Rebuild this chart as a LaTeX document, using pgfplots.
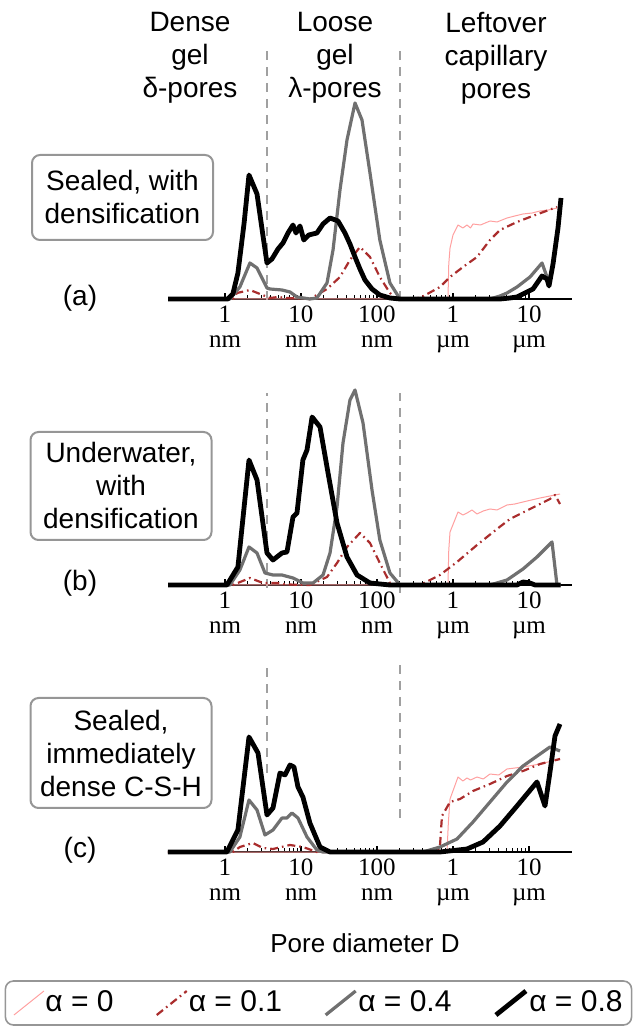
\documentclass[border=0pt]{standalone}
\usepackage{fontspec}
\setmainfont{Liberation Sans}
\newfontfamily\serif{Liberation Serif}
\usepackage{pgfplots}
\pgfplotsset{compat=1.18}

\definecolor{alphaZero}{RGB}{255,160,160}
\definecolor{alphaOne}{RGB}{170,45,45}
\definecolor{alphaFour}{RGB}{112,112,112}
\definecolor{dashgray}{RGB}{160,160,160}
\definecolor{boxgray}{RGB}{150,150,150}

% shared look of the three pore-size panels
\pgfplotsset{
  every axis/.append style={
    scale only axis, width=202pt, height=100pt,
    xmin=0.178, xmax=36800, ymin=0, ymax=200,
    axis x line*=bottom, axis y line=none,
    xtick={1,10,100,1000,10000},
    xticklabels={{1\\nm},{10\\nm},{100\\nm},{1\\µm},{10\\µm}},
    xticklabel style={align=center, font=\serif\fontsize{12.5}{12.5}\selectfont},
    tick align=inside,
    major tick length=3pt, minor tick length=1.8pt,
    tick style={black, line width=0.6pt},
    axis line style={black, line width=1pt},
    clip=false, anchor=south west,
  },
  a0/.style={color=alphaZero, line width=0.5pt, no marks, line join=round},
  a1/.style={color=alphaOne, line width=1.1pt, no marks, line join=round,
    dash pattern=on 4pt off 2pt on 0.8pt off 2pt},
  a4/.style={color=alphaFour, line width=1.6pt, no marks, line join=round},
  a8/.style={color=black, line width=2.4pt, no marks, line join=round},
}
\tikzset{
  poreclass/.style={dashgray, line width=1pt, dash pattern=on 4.5pt off 3.5pt},
  casebox/.style={draw=boxgray, line width=1pt, rounded corners=4pt, align=center,
    minimum width=90.5pt, inner sep=3pt, font=\fontsize{14}{16.5}\selectfont},
  txt/.style={align=center, font=\fontsize{14}{16.5}\selectfont},
}

\begin{document}
\begin{tikzpicture}
\useasboundingbox (0,0) rectangle (316pt,516pt);

% (a) sealed, with densification
\begin{semilogxaxis}[at={(84pt,366.5pt)}]
  \draw[poreclass] (axis cs:3.57,-1) -- (axis cs:3.57,251);
  \draw[poreclass] (axis cs:201,-1) -- (axis cs:201,251);
  \addplot[a0] coordinates {(0.178,0) (859,0) (880,35) (914,51) (1000,64) (1164,74) (1350,71)
    (1528,74) (1700,71) (1833,75) (2300,74) (3069,78) (3800,77) (5138,81) (6500,83)
    (8340,85) (11000,86) (13960,88) (18000,89) (23350,91)};
  \addplot[a1] coordinates {(0.178,0) (1.27,0) (1.44,6) (2.13,9) (2.89,5) (3.91,1) (5.0,2)
    (6.5,1) (13.1,0) (22.0,10) (32.6,22) (44.1,39) (59.7,52) (80.9,42) (109,22) (148,6)
    (183,0) (368,1) (674,12) (914,22) (1355,32) (2070,42) (3069,59) (4151,69) (6950,77)
    (10310,82) (23350,92)};
  \addplot[a4] coordinates {(0.178,0) (1.16,0) (1.57,12) (2.13,36) (2.64,31) (3.57,11)
    (3.91,10) (5.62,9) (7.17,7) (8.86,2) (13.1,0) (16.2,1) (22.0,16) (26.4,49) (32.6,109)
    (40.3,159) (51.4,196) (63.5,179) (80.9,126) (109,59) (148,16) (201,0) (3069,0)
    (4151,3) (5138,6) (6950,12) (10310,22) (14830,36) (17270,22) (18330,18)};
  \addplot[a8] coordinates {(0.178,0) (1.09,0) (1.27,5) (1.48,26) (1.78,75) (2.07,124)
    (2.64,105) (3.07,70) (3.57,36) (4.15,40) (4.98,50) (5.80,56) (6.74,66) (7.85,74)
    (8.60,66) (9.70,73) (10.9,59) (12.7,64) (16.2,66) (19.5,75) (24.1,81) (30.7,78)
    (37.9,66) (44.1,55) (51.4,42) (59.7,30) (69.5,19) (86,10) (109,4) (148,1) (201,0)
    (4151,0) (5623,1) (6950,2) (8340,5) (11290,10) (14830,23) (17270,20) (18330,13)
    (20700,35) (24080,71) (26370,101)};
\end{semilogxaxis}

% (b) underwater, with densification
\begin{semilogxaxis}[at={(84pt,223.5pt)}]
  \draw[poreclass] (axis cs:3.57,-3) -- (axis cs:3.57,192);
  \draw[poreclass] (axis cs:201,-8) -- (axis cs:201,192);
  \addplot[a0] coordinates {(0.178,0) (859,0) (880,35) (914,53) (1164,73) (1350,70)
    (1528,72) (1778,75) (2070,71) (2500,74) (3069,76) (3800,75) (5138,80) (6500,81)
    (8340,83) (13960,87) (25590,91)};
  \addplot[a1] coordinates {(0.178,0) (1.27,0) (2.13,7) (3.16,2) (4.83,2) (6.5,0.5) (13.1,0)
    (22.0,8) (29.8,22) (40.3,38) (59.7,52) (80.9,42) (109,22) (148,2) (201,0) (368,0)
    (498,5) (674,10) (1130,23) (2070,40) (3793,56) (5623,66) (10310,76) (18890,86)
    (21980,90) (25590,81)};
  \addplot[a4] coordinates {(0.178,0) (1.16,0) (1.57,15) (2.07,38) (2.64,32) (3.36,12)
    (4.28,10) (5.62,10) (7.85,7) (10.6,2) (14.4,2) (19.5,10) (24.1,32) (29.8,78)
    (35.7,142) (44.1,185) (51.4,195) (65.5,162) (86.0,95) (109,45) (148,12) (201,0)
    (3069,0) (5138,5) (8340,16) (12740,28) (20080,43) (23350,0) (26000,0)};
  \addplot[a8] coordinates {(0.178,0) (1.06,0) (1.48,18) (2.07,125) (2.64,105) (3.57,32)
    (4.28,25) (5.62,32) (6.54,33) (7.85,68) (8.86,72) (10.6,125) (12.0,135) (14.0,168)
    (17.8,158) (22.7,112) (29.8,62) (40.3,28) (54.6,10) (80.9,2) (148,0) (6950,0)
    (8340,3) (10310,2) (12000,0) (26000,0)};
\end{semilogxaxis}

% (c) sealed, immediately dense C-S-H
\begin{semilogxaxis}[at={(84pt,90pt)},
    legend columns=4,
    legend style={at={(0.3725,-0.755)}, anchor=center, draw=boxgray, line width=0.8pt,
      rounded corners=4pt, font=\fontsize{15}{15}\selectfont,
      inner xsep=4pt, inner ysep=3pt, nodes={inner xsep=0.5pt},
      /tikz/every even column/.append style={column sep=20.5pt}},
    legend image code/.code={\draw[#1] (0pt,-6pt) -- (15pt,6pt);},
  ]
  \draw[poreclass] (axis cs:3.57,79) -- (axis cs:3.57,189);
  \draw[poreclass] (axis cs:201,34) -- (axis cs:201,192);
  \addplot[a0] coordinates {(0.178,0) (834,0) (870,30) (914,53) (1164,75) (1350,71)
    (1528,74) (1700,72) (2070,75) (2500,73) (3069,78) (4000,77) (5138,83) (8340,85)
    (13960,88) (25590,93)};
  \addlegendentry{α = 0}
  \addplot[a1] coordinates {(0.178,0) (1.27,0) (1.57,5) (2.33,9) (3.16,4) (4.28,3) (7.17,7)
    (10.6,5) (16.2,0) (615,0) (674,6) (716,36) (914,50) (1237,53) (1833,61) (3069,68)
    (5138,76) (8340,81) (13960,88) (25590,93)};
  \addlegendentry{α = 0.1}
  \addplot[a4] coordinates {(0.178,0) (1.16,0) (1.57,15) (2.07,52) (2.64,42) (3.36,17)
    (4.28,22) (5.62,34) (6.54,34) (7.61,39) (9.13,34) (12.0,15) (16.2,2) (19.5,0) (403,0)
    (674,5) (1130,13) (1833,30) (3069,50) (5138,70) (8340,86) (13960,98) (18890,105)
    (25590,101)};
  \addlegendentry{α = 0.4}
  \addplot[a8] coordinates {(0.178,0) (1.06,0) (1.48,22) (2.07,115) (2.72,99) (3.57,37)
    (4.28,44) (5.29,79) (6.16,77) (7.17,87) (8.09,85) (9.13,65) (10.6,55) (13.1,29)
    (17.8,5) (24.1,0) (674,0) (1528,3) (2483,10) (4151,26) (6950,46) (12740,70)
    (16250,46) (18890,80) (21980,116) (25590,128)};
  \addlegendentry{α = 0.8}
\end{semilogxaxis}

% pore classes along the top
\node[txt] at (95pt,487pt) {Dense\\gel\\δ-pores};
\node[txt] at (167.5pt,487pt) {Loose\\gel\\λ-pores};
\node[txt] at (248pt,487pt) {Leftover\\capillary\\pores};

% curing cases
\node[casebox, minimum height=42.5pt] at (61.25pt,417.25pt) {Sealed, with\\densification};
\node[casebox, minimum height=54pt] at (60.5pt,273pt) {Underwater,\\with\\densification};
\node[casebox, minimum height=55pt] at (60.5pt,139.5pt) {Sealed,\\immediately\\dense C-S-H};

\node[txt] at (40pt,367pt) {(a)};
\node[txt] at (40pt,224.5pt) {(b)};
\node[txt] at (40pt,91pt) {(c)};

\node[font=\fontsize{13}{15}\selectfont] at (182.5pt,44.5pt) {Pore diameter D};
\end{tikzpicture}
\end{document}
